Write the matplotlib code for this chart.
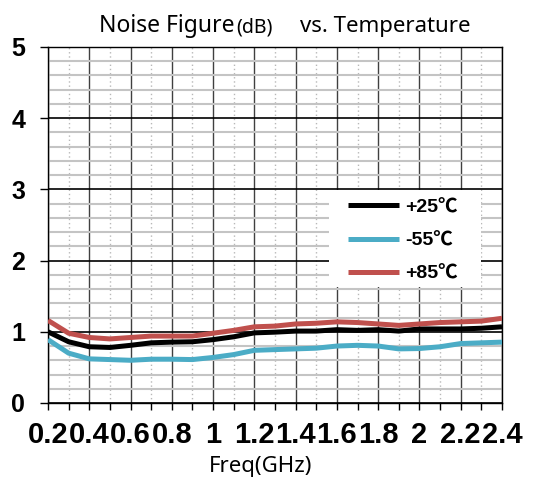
import matplotlib.pyplot as plt
from matplotlib.patches import Rectangle
from matplotlib.ticker import MultipleLocator

plt.rcParams["font.family"] = ["Liberation Sans", "Noto Sans CJK SC"]

freq = [0.2, 0.3, 0.4, 0.5, 0.6, 0.7, 0.8, 0.9, 1.0, 1.1, 1.2, 1.3,
        1.4, 1.5, 1.6, 1.7, 1.8, 1.9, 2.0, 2.1, 2.2, 2.3, 2.4]
nf_25 = [1.00, 0.86, 0.79, 0.78, 0.81, 0.845, 0.855, 0.86, 0.89, 0.93, 0.985, 0.995,
         1.01, 1.01, 1.03, 1.02, 1.03, 1.01, 1.04, 1.04, 1.04, 1.05, 1.07]
nf_m55 = [0.89, 0.70, 0.62, 0.61, 0.60, 0.615, 0.615, 0.61, 0.64, 0.68, 0.74, 0.75,
          0.76, 0.77, 0.80, 0.81, 0.80, 0.76, 0.765, 0.79, 0.835, 0.845, 0.855]
nf_85 = [1.16, 0.98, 0.92, 0.90, 0.92, 0.94, 0.94, 0.94, 0.98, 1.02, 1.07, 1.08,
         1.11, 1.12, 1.14, 1.13, 1.11, 1.09, 1.11, 1.13, 1.14, 1.15, 1.19]
xtick_vals = [0.2, 0.4, 0.6, 0.8, 1.0, 1.2, 1.4, 1.6, 1.8, 2.0, 2.2, 2.4]
xtick_labels = ["0.2", "0.4", "0.6", "0.8", "1", "1.2", "1.4", "1.6", "1.8", "2", "2.2", "2.4"]
series = [("+25℃", nf_25, "#000000"),
          ("-55℃", nf_m55, "#4BACC6"),
          ("+85℃", nf_85, "#C0504D")]

fig = plt.figure(figsize=(5.45, 4.8), dpi=100)
ax = fig.add_axes([48 / 545, 1 - 403 / 480, 454 / 545, 356 / 480])

for label, vals, col in series:
    ax.plot(freq, vals, color=col, lw=3.6, label=label, solid_capstyle="butt", zorder=3)

ax.set_xlim(0.2, 2.4)
ax.set_ylim(0, 5)
ax.set_xticks(xtick_vals)
ax.set_xticklabels(xtick_labels)
ax.xaxis.set_minor_locator(MultipleLocator(0.1))
ax.yaxis.set_major_locator(MultipleLocator(1))
ax.yaxis.set_minor_locator(MultipleLocator(0.2))
ax.set_axisbelow(True)

ax.grid(which="major", axis="x", color="#404040", lw=1.0)
ax.grid(which="minor", axis="x", color="#B8B8B8", lw=1.0, ls=(0, (1, 2)))
ax.grid(which="major", axis="y", color="#000000", lw=1.2)
ax.grid(which="minor", axis="y", color="#C4C4C4", lw=1.5)

ax.tick_params(axis="x", which="both", direction="out", length=5, width=1, color="black")
ax.tick_params(axis="x", which="major", labelsize=21, pad=8)
ax.tick_params(axis="y", which="major", direction="out", length=5.5, width=1,
               labelsize=18, pad=11)
ax.tick_params(axis="y", which="minor", length=0)
for lbl in ax.get_xticklabels() + ax.get_yticklabels():
    lbl.set_fontweight("bold")
for sp in ax.spines.values():
    sp.set_color("black")
    sp.set_linewidth(1.0)

# white panel behind the legend
ax.add_patch(Rectangle((0.619, 0.326), 0.335, 0.272, transform=ax.transAxes,
                       facecolor="white", edgecolor="none", zorder=2.5))
ax.legend(loc="upper left", bbox_to_anchor=(0.661, 0.574), frameon=False,
          borderpad=0, borderaxespad=0, handlelength=2.63, handletextpad=0.3,
          labelspacing=0.8, prop={"size": 14, "weight": "bold"})

# title in three pieces, the unit set smaller
title_parts = [("Noise Figure", 16.5, 99), ("(dB)", 14, 236), ("vs. Temperature", 16, 300)]
for txt, size, x0 in title_parts:
    fig.text(x0 / 545, 1 - 32 / 480, txt, fontsize=size, family="Noto Sans",
             ha="left", va="baseline")

fig.text(261 / 545, 1 - 472 / 480, "Freq(GHz)", fontsize=16, family="Noto Sans",
         ha="center", va="baseline")

fig.savefig("out.png", dpi=100)
